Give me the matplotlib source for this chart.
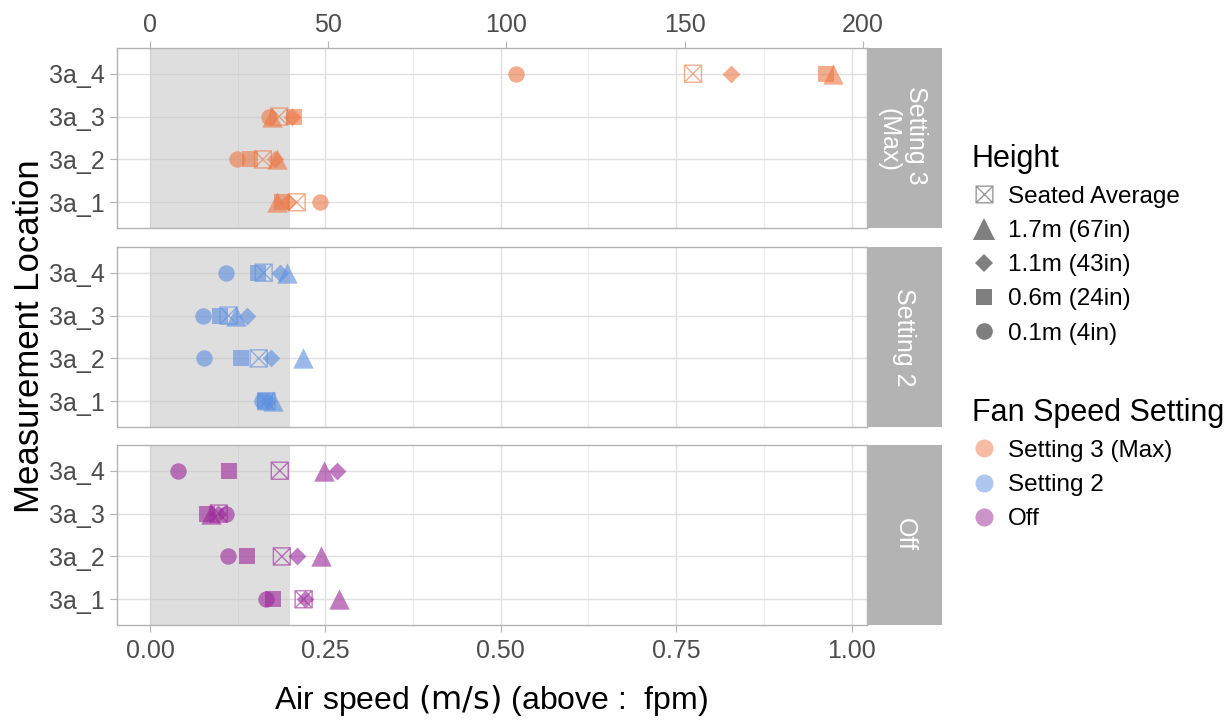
import numpy as np
import matplotlib
matplotlib.use("Agg")
import matplotlib.pyplot as plt
from matplotlib.path import Path
from matplotlib.lines import Line2D

plt.rcParams['font.family'] = ['Liberation Sans', 'DejaVu Sans']

# categories
locations = ['3a_1', '3a_2', '3a_3', '3a_4']
heights = ['Seated Average', '1.7m (67in)', '1.1m (43in)', '0.6m (24in)', '0.1m (4in)']
settings = ['Setting 3 (Max)', 'Setting 2', 'Off']
strip_labels = [['Setting 3', '(Max)'], ['Setting 2'], ['Off']]

# air speed (m/s) per location 3a_1..3a_4
s3_seated = [0.209, 0.161, 0.184, 0.774]
s3_h170 = [0.181, 0.181, 0.174, 0.974]
s3_h110 = [0.197, 0.178, 0.202, 0.828]
s3_h060 = [0.188, 0.142, 0.205, 0.964]
s3_h010 = [0.242, 0.124, 0.170, 0.521]

s2_seated = [0.166, 0.155, 0.112, 0.162]
s2_h170 = [0.176, 0.218, 0.122, 0.195]
s2_h110 = [0.168, 0.172, 0.138, 0.185]
s2_h060 = [0.164, 0.130, 0.100, 0.154]
s2_h010 = [0.159, 0.077, 0.075, 0.109]

off_seated = [0.219, 0.188, 0.098, 0.185]
off_h170 = [0.270, 0.244, 0.087, 0.248]
off_h110 = [0.221, 0.209, 0.097, 0.266]
off_h060 = [0.176, 0.138, 0.081, 0.113]
off_h010 = [0.166, 0.111, 0.108, 0.040]

data = {
    'Setting 3 (Max)': [s3_seated, s3_h170, s3_h110, s3_h060, s3_h010],
    'Setting 2': [s2_seated, s2_h170, s2_h110, s2_h060, s2_h010],
    'Off': [off_seated, off_h170, off_h110, off_h060, off_h010],
}

colors = {'Setting 3 (Max)': '#EC7A48', 'Setting 2': '#5E90DE', 'Off': '#9C2A9B'}
ALPHA = 0.62

# square with a cross (R shape 7)
box_x = Path([(-1, -1), (1, -1), (1, 1), (-1, 1), (-1, -1),
              (-1, -1), (1, 1), (-1, 1), (1, -1)],
             [Path.MOVETO, Path.LINETO, Path.LINETO, Path.LINETO, Path.CLOSEPOLY,
              Path.MOVETO, Path.LINETO, Path.MOVETO, Path.LINETO])
markers = [box_x, '^', 'D', 's', 'o']
sizes = [150, 215, 82, 135, 140]

FPM = 196.85
tick_grey = '#4D4D4D'
border = '#B3B3B3'

fig = plt.figure(figsize=(12.29, 7.21), dpi=100)

left, right = 117 / 1229, 867 / 1229
strip_w = 75 / 1229
tops = [48, 247, 445]
ph = 180

y = np.arange(1, len(locations) + 1)
axes = []
for i, st in enumerate(settings):
    bottom = 1 - (tops[i] + ph) / 721
    ax = fig.add_axes([left, bottom, right - left, ph / 721])
    axes.append(ax)
    ax.set_xlim(-0.047, 1.022)
    ax.set_ylim(0.4, 4.6)
    ax.set_xticks([0, 0.25, 0.5, 0.75, 1.0])
    ax.set_xticks([0.125, 0.375, 0.625, 0.875], minor=True)
    ax.set_yticks(y)
    ax.set_yticklabels(locations)
    ax.grid(True, which='major', color='#E0E0E0', lw=1.0, zorder=0)
    ax.grid(True, which='minor', axis='x', color='#EBEBEB', lw=0.8, zorder=0)
    ax.set_axisbelow(True)
    ax.axvspan(0, 0.2, color='#C4C4C4', alpha=0.55, lw=0, zorder=1)
    for sp in ax.spines.values():
        sp.set_color(border)
        sp.set_linewidth(1.0)
    ax.tick_params(axis='y', labelsize=18, labelcolor=tick_grey, color=border, length=5, pad=4)
    ax.tick_params(axis='x', which='both', length=0)
    if i == 2:
        ax.tick_params(axis='x', which='major', labelsize=18, labelcolor=tick_grey,
                       color=border, length=5, pad=5)
        ax.set_xticklabels(['0.00', '0.25', '0.50', '0.75', '1.00'])
    else:
        ax.set_xticklabels([])

    col = colors[st]
    for vals, m, s in zip(data[st], markers, sizes):
        if m is box_x:
            ax.scatter(vals, y, marker=m, s=s, facecolors='none', edgecolors=col,
                       linewidths=1.0, alpha=ALPHA, zorder=3)
        else:
            ax.scatter(vals, y, marker=m, s=s, color=col, lw=0, alpha=ALPHA, zorder=3)

    # facet strip
    sax = fig.add_axes([right, bottom, strip_w, ph / 721])
    sax.set_facecolor(border)
    sax.set_xticks([])
    sax.set_yticks([])
    for sp in sax.spines.values():
        sp.set_visible(False)
    lines = strip_labels[i]
    if len(lines) == 2:
        spots = [(0.66, 0.515), (0.29, 0.49)]
    else:
        spots = [(0.5, 0.5)]
    for txt, (sx, sy) in zip(lines, spots):
        sax.text(sx, sy, txt, rotation=-90, ha='center', va='center', color='white',
                 fontsize=18, transform=sax.transAxes)

top = axes[0].secondary_xaxis('top', functions=(lambda v: v * FPM, lambda v: v / FPM))
top.set_xticks([0, 50, 100, 150, 200])
top.tick_params(labelsize=18, labelcolor=tick_grey, color=border, length=5, pad=3)
top.spines['top'].set_visible(False)

fig.text(0.024, 1 - 336 / 721, 'Measurement Location', rotation=90, ha='center',
         va='center', fontsize=25)
fig.text((117 + 866) / 2 / 1229, 1 - 700 / 721,
         r'Air speed $(\mathrm{m/s})$ (above :  fpm)', ha='center', va='center',
         fontsize=23, math_fontfamily='dejavusans')

# legends
grey = '#7F7F7F'
h_handles = [
    Line2D([], [], ls='none', marker=box_x, markersize=12, mfc='none', mec='#999999', mew=1.0),
    Line2D([], [], ls='none', marker='^', markersize=16, color=grey, mew=0),
    Line2D([], [], ls='none', marker='D', markersize=9, color=grey, mew=0),
    Line2D([], [], ls='none', marker='s', markersize=12, color=grey, mew=0),
    Line2D([], [], ls='none', marker='o', markersize=12, color=grey, mew=0),
]
leg1 = fig.legend(h_handles, heights, loc='upper left', bbox_to_anchor=(962 / 1229, 1 - 134 / 721),
                  frameon=False, title='Height', title_fontsize=22, fontsize=17.5,
                  handlelength=1.0, handletextpad=0.5, labelspacing=0.5, borderaxespad=0)
leg1._legend_box.align = 'left'

s_handles = [Line2D([], [], ls='none', marker='o', markersize=13, color=colors[s], mew=0,
                    alpha=ALPHA - 0.12) for s in settings]
leg2 = fig.legend(s_handles, settings, loc='upper left', bbox_to_anchor=(962 / 1229, 1 - 388 / 721),
                  frameon=False, title='Fan Speed Setting', title_fontsize=22, fontsize=17.5,
                  handlelength=1.0, handletextpad=0.5, labelspacing=0.5, borderaxespad=0)
leg2._legend_box.align = 'left'

fig.savefig('out.png', dpi=100)
